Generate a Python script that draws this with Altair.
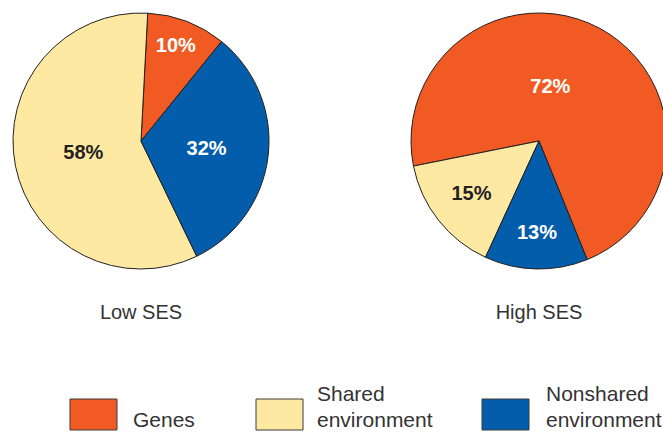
import json
import math

import altair as alt
import pandas as pd

# ---- data -------------------------------------------------------------
SES = ["Low SES", "High SES"]
COMPONENTS = ["Genes", "Shared environment", "Nonshared environment"]
LOW_SES = [10, 58, 32]
HIGH_SES = [72, 15, 13]

# slices run clockwise in this order
CLOCKWISE = ["Genes", "Nonshared environment", "Shared environment"]

# ---- style / layout ---------------------------------------------------
COLORS = ["#F15A22", "#FEE9A3", "#035DAA"]
INK = "#231F20"
TEXT = "#333333"
FONT = "Liberation Sans"

PIE_CX = [141, 539]
PIE_CY = 141
PIE_R = 128
START_DEG = [3.0, 258.7]          # angle where the Genes slice begins
GENES_LABEL_SHIFT = [-0.8, -16.4]  # nudge of the Genes label, degrees
TITLE_Y = 319

LEGEND_X = [70, 256, 482]
LEGEND_LABEL_X = [133, 317, 546]
SWATCH_W = 47
SWATCH_TOP, SWATCH_BOTTOM = 399, 430
LEGEND_BASELINE = 427
LINE_HEIGHT = 26

rows = []
for ses, vals in zip(SES, [LOW_SES, HIGH_SES]):
    for comp, v in zip(COMPONENTS, vals):
        rows.append({"ses": ses, "component": comp, "value": v})
df = pd.DataFrame(rows)

color_scale = alt.Scale(domain=COMPONENTS, range=COLORS)
label_radius = alt.Scale(type="linear", domain=[10, 15, 32, 72],
                         range=[101, 86, 66, 55], zero=False)


def pie(ses, cx, start_deg, shift_deg):
    start = math.radians(start_deg)
    theta = alt.Theta("value:Q", stack=True,
                      scale=alt.Scale(domain=[0, 100],
                                      range=[start, start + 2 * math.pi]))
    base = (
        alt.Chart(df)
        .transform_filter(alt.datum.ses == ses)
        .transform_calculate(
            rank=f"indexof({json.dumps(CLOCKWISE)}, datum.component)",
            label="datum.value + '%'",
        )
    )
    pos = dict(x=alt.value(cx), y=alt.value(PIE_CY))
    arcs = base.mark_arc(radius=PIE_R, stroke=INK, strokeWidth=1).encode(
        theta=theta,
        color=alt.Color("component:N", scale=color_scale, legend=None),
        order=alt.Order("rank:Q"),
        **pos,
    )
    text_common = dict(
        theta=theta,
        radius=alt.Radius("value:Q", scale=label_radius),
        order=alt.Order("rank:Q"),
        text="label:N",
        color=alt.condition(alt.datum.component == "Shared environment",
                            alt.value(INK), alt.value("white")),
        **pos,
    )
    text_style = dict(font=FONT, fontSize=20, fontWeight="bold",
                      align="center", baseline="middle")
    others = base.mark_text(**text_style).encode(
        opacity=alt.condition(alt.datum.component == "Genes",
                              alt.value(0), alt.value(1)),
        **text_common,
    )
    genes = (
        base.transform_filter(alt.datum.component == "Genes")
        .mark_text(thetaOffset=math.radians(shift_deg), **text_style)
        .encode(**text_common)
    )
    title = alt.Chart(pd.DataFrame({"ses": [ses]})).mark_text(
        font=FONT, fontSize=20, color=TEXT, align="center",
        baseline="alphabetic",
    ).encode(text="ses:N", x=alt.value(cx), y=alt.value(TITLE_Y))
    return alt.layer(arcs, others, genes, title)


layers = [pie(s, cx, st, sh)
          for s, cx, st, sh in zip(SES, PIE_CX, START_DEG, GENES_LABEL_SHIFT)]

# ---- legend -----------------------------------------------------------
legend_df = pd.DataFrame({"component": COMPONENTS})
for comp, x0, tx in zip(COMPONENTS, LEGEND_X, LEGEND_LABEL_X):
    item = alt.Chart(legend_df).transform_filter(alt.datum.component == comp)
    swatch = item.mark_rect(stroke="#3a3a3a", strokeWidth=1).encode(
        x=alt.value(x0), x2=alt.value(x0 + SWATCH_W),
        y=alt.value(SWATCH_TOP), y2=alt.value(SWATCH_BOTTOM),
        color=alt.Color("component:N", scale=color_scale, legend=None),
    )
    lines = comp.split(" ")
    label = item.mark_text(
        text=lines, font=FONT, fontSize=21, color=TEXT, align="left",
        baseline="alphabetic", lineHeight=LINE_HEIGHT,
    ).encode(x=alt.value(tx),
             y=alt.value(LEGEND_BASELINE - (len(lines) - 1) * LINE_HEIGHT))
    layers += [swatch, label]

chart = (
    alt.layer(*layers)
    .resolve_scale(theta="independent")
    .properties(width=663, height=432, padding=0,
                autosize=alt.AutoSizeParams(type="none"),
                background="white")
    .configure_view(stroke=None)
)

chart.save("out.html", embed_options={"renderer": "svg", "actions": False})
